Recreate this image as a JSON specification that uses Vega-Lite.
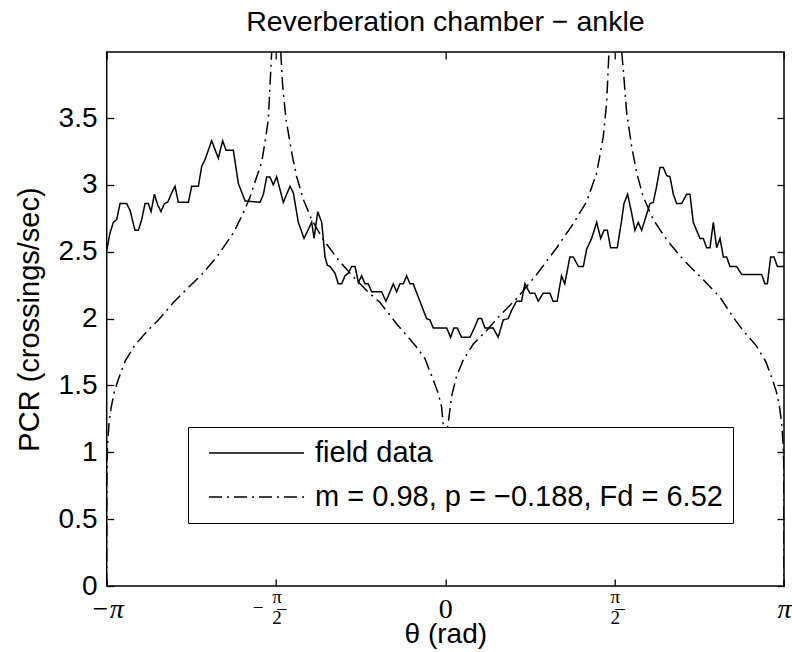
{
 "$schema": "https://vega.github.io/schema/vega-lite/v6.json",
 "width": 677.3,
 "height": 534,
 "autosize": {"type": "none"},
 "padding": {"left": 106.7, "top": 52, "right": 8, "bottom": 66},
 "background": "white",
 "title": {"text": "Reverberation chamber − ankle", "font": "Liberation Sans", "fontSize": 28.5, "fontWeight": "normal", "color": "black", "anchor": "middle", "baseline": "alphabetic", "offset": -10.5},
 "config": {
  "view": {"stroke": "black", "strokeWidth": 1.5},
  "axis": {"domain": false, "grid": false, "tickColor": "black", "tickWidth": 1.3, "tickSize": -7, "labelColor": "black", "titleColor": "black", "titleFontWeight": "normal"}
 },
 "data": {"values": [
  {"t":-3.1416,"v":2.51,"s":"f"},{"t":-3.111,"v":2.64,"s":"f"},{"t":-3.080,"v":2.72,"s":"f"},{"t":-3.049,"v":2.74,"s":"f"},{"t":-3.018,"v":2.86,"s":"f"},{"t":-2.956,"v":2.86,"s":"f"},{"t":-2.925,"v":2.81,"s":"f"},{"t":-2.879,"v":2.66,"s":"f"},{"t":-2.848,"v":2.66,"s":"f"},{"t":-2.817,"v":2.74,"s":"f"},{"t":-2.786,"v":2.86,"s":"f"},{"t":-2.755,"v":2.86,"s":"f"},{"t":-2.730,"v":2.80,"s":"f"},{"t":-2.699,"v":2.93,"s":"f"},{"t":-2.668,"v":2.85,"s":"f"},{"t":-2.638,"v":2.80,"s":"f"},{"t":-2.607,"v":2.86,"s":"f"},{"t":-2.576,"v":2.87,"s":"f"},{"t":-2.539,"v":2.94,"s":"f"},{"t":-2.508,"v":2.99,"s":"f"},{"t":-2.477,"v":2.87,"s":"f"},{"t":-2.384,"v":2.87,"s":"f"},{"t":-2.353,"v":2.99,"s":"f"},{"t":-2.291,"v":2.99,"s":"f"},{"t":-2.260,"v":3.14,"s":"f"},{"t":-2.229,"v":3.19,"s":"f"},{"t":-2.168,"v":3.33,"s":"f"},{"t":-2.106,"v":3.20,"s":"f"},{"t":-2.066,"v":3.33,"s":"f"},{"t":-2.035,"v":3.26,"s":"f"},{"t":-1.967,"v":3.26,"s":"f"},{"t":-1.920,"v":3.01,"s":"f"},{"t":-1.858,"v":2.88,"s":"f"},{"t":-1.719,"v":2.87,"s":"f"},{"t":-1.688,"v":2.93,"s":"f"},{"t":-1.657,"v":3.06,"s":"f"},{"t":-1.627,"v":3.06,"s":"f"},{"t":-1.596,"v":3.00,"s":"f"},{"t":-1.565,"v":3.06,"s":"f"},{"t":-1.503,"v":2.87,"s":"f"},{"t":-1.441,"v":2.99,"s":"f"},{"t":-1.410,"v":2.94,"s":"f"},{"t":-1.364,"v":2.72,"s":"f"},{"t":-1.311,"v":2.60,"s":"f"},{"t":-1.240,"v":2.72,"s":"f"},{"t":-1.218,"v":2.60,"s":"f"},{"t":-1.184,"v":2.80,"s":"f"},{"t":-1.147,"v":2.72,"s":"f"},{"t":-1.116,"v":2.46,"s":"f"},{"t":-1.095,"v":2.40,"s":"f"},
  {"t":-1.070,"v":2.39,"s":"f"},{"t":-1.024,"v":2.34,"s":"f"},{"t":-0.993,"v":2.26,"s":"f"},{"t":-0.962,"v":2.26,"s":"f"},{"t":-0.931,"v":2.32,"s":"f"},{"t":-0.900,"v":2.34,"s":"f"},{"t":-0.869,"v":2.39,"s":"f"},{"t":-0.838,"v":2.39,"s":"f"},{"t":-0.807,"v":2.27,"s":"f"},{"t":-0.776,"v":2.32,"s":"f"},{"t":-0.746,"v":2.26,"s":"f"},{"t":-0.715,"v":2.26,"s":"f"},{"t":-0.684,"v":2.20,"s":"f"},{"t":-0.591,"v":2.20,"s":"f"},{"t":-0.551,"v":2.13,"s":"f"},{"t":-0.514,"v":2.20,"s":"f"},{"t":-0.483,"v":2.26,"s":"f"},{"t":-0.452,"v":2.20,"s":"f"},{"t":-0.421,"v":2.26,"s":"f"},{"t":-0.390,"v":2.26,"s":"f"},{"t":-0.359,"v":2.32,"s":"f"},{"t":-0.328,"v":2.26,"s":"f"},{"t":-0.298,"v":2.26,"s":"f"},{"t":-0.236,"v":2.13,"s":"f"},{"t":-0.174,"v":2.00,"s":"f"},{"t":-0.143,"v":1.99,"s":"f"},{"t":-0.112,"v":1.93,"s":"f"},{"t":0.012,"v":1.93,"s":"f"},{"t":0.049,"v":1.86,"s":"f"},{"t":0.079,"v":1.93,"s":"f"},{"t":0.110,"v":1.93,"s":"f"},{"t":0.151,"v":1.86,"s":"f"},{"t":0.228,"v":1.86,"s":"f"},{"t":0.274,"v":1.94,"s":"f"},{"t":0.305,"v":2.00,"s":"f"},{"t":0.336,"v":2.00,"s":"f"},{"t":0.367,"v":1.93,"s":"f"},{"t":0.444,"v":1.93,"s":"f"},{"t":0.490,"v":1.86,"s":"f"},{"t":0.537,"v":1.99,"s":"f"},{"t":0.583,"v":2.00,"s":"f"},{"t":0.614,"v":2.06,"s":"f"},{"t":0.660,"v":2.13,"s":"f"},{"t":0.707,"v":2.13,"s":"f"},{"t":0.738,"v":2.26,"s":"f"},{"t":0.784,"v":2.19,"s":"f"},{"t":0.830,"v":2.19,"s":"f"},{"t":0.861,"v":2.13,"s":"f"},{"t":0.908,"v":2.19,"s":"f"},{"t":0.969,"v":2.19,"s":"f"},{"t":1.000,"v":2.13,"s":"f"},{"t":1.037,"v":2.13,"s":"f"},{"t":1.078,"v":2.32,"s":"f"},{"t":1.108,"v":2.26,"s":"f"},{"t":1.155,"v":2.46,"s":"f"},
  {"t":1.187,"v":2.46,"s":"f"},{"t":1.234,"v":2.39,"s":"f"},{"t":1.280,"v":2.39,"s":"f"},{"t":1.311,"v":2.52,"s":"f"},{"t":1.357,"v":2.60,"s":"f"},{"t":1.404,"v":2.72,"s":"f"},{"t":1.441,"v":2.60,"s":"f"},{"t":1.472,"v":2.66,"s":"f"},{"t":1.503,"v":2.66,"s":"f"},{"t":1.533,"v":2.53,"s":"f"},{"t":1.595,"v":2.53,"s":"f"},{"t":1.636,"v":2.74,"s":"f"},{"t":1.657,"v":2.86,"s":"f"},{"t":1.691,"v":2.93,"s":"f"},{"t":1.728,"v":2.79,"s":"f"},{"t":1.759,"v":2.66,"s":"f"},{"t":1.790,"v":2.72,"s":"f"},{"t":1.821,"v":2.66,"s":"f"},{"t":1.852,"v":2.74,"s":"f"},{"t":1.898,"v":2.86,"s":"f"},{"t":1.929,"v":2.87,"s":"f"},{"t":1.960,"v":2.99,"s":"f"},{"t":1.991,"v":3.13,"s":"f"},{"t":2.022,"v":3.13,"s":"f"},{"t":2.053,"v":3.07,"s":"f"},{"t":2.084,"v":3.06,"s":"f"},{"t":2.115,"v":2.93,"s":"f"},{"t":2.146,"v":2.86,"s":"f"},{"t":2.192,"v":2.86,"s":"f"},{"t":2.238,"v":2.93,"s":"f"},{"t":2.269,"v":2.93,"s":"f"},{"t":2.300,"v":2.72,"s":"f"},{"t":2.362,"v":2.60,"s":"f"},{"t":2.393,"v":2.60,"s":"f"},{"t":2.424,"v":2.53,"s":"f"},{"t":2.455,"v":2.53,"s":"f"},{"t":2.486,"v":2.72,"s":"f"},{"t":2.517,"v":2.53,"s":"f"},{"t":2.548,"v":2.60,"s":"f"},{"t":2.579,"v":2.46,"s":"f"},{"t":2.610,"v":2.46,"s":"f"},{"t":2.640,"v":2.39,"s":"f"},{"t":2.702,"v":2.39,"s":"f"},{"t":2.749,"v":2.33,"s":"f"},{"t":2.934,"v":2.33,"s":"f"},{"t":2.965,"v":2.26,"s":"f"},{"t":2.987,"v":2.26,"s":"f"},{"t":3.018,"v":2.46,"s":"f"},{"t":3.049,"v":2.46,"s":"f"},{"t":3.080,"v":2.39,"s":"f"},{"t":3.1416,"v":2.39,"s":"f"},
  {"t":-3.1416,"v":0,"s":"m","b":"A"},{"t":-3.1406,"v":0.75,"s":"m","b":"A"},{"t":-3.1386,"v":0.92,"s":"m","b":"A"},{"t":-3.1336,"v":1.05,"s":"m","b":"A"},{"t":-3.1216,"v":1.20,"s":"m","b":"A"},{"t":-3.1016,"v":1.33,"s":"m","b":"A"},{"t":-3.0716,"v":1.45,"s":"m","b":"A"},{"t":-3.0316,"v":1.55,"s":"m","b":"A"},{"t":-2.9716,"v":1.68,"s":"m","b":"A"},{"t":-2.8816,"v":1.80,"s":"m","b":"A"},{"t":-2.7616,"v":1.91,"s":"m","b":"A"},{"t":-2.662,"v":1.99,"s":"m","b":"A"},{"t":-2.523,"v":2.12,"s":"m","b":"A"},{"t":-2.400,"v":2.22,"s":"m","b":"A"},{"t":-2.260,"v":2.33,"s":"m","b":"A"},{"t":-2.121,"v":2.46,"s":"m","b":"A"},{"t":-1.967,"v":2.64,"s":"m","b":"A"},{"t":-1.874,"v":2.79,"s":"m","b":"A"},{"t":-1.812,"v":2.91,"s":"m","b":"A"},{"t":-1.750,"v":3.06,"s":"m","b":"A"},{"t":-1.704,"v":3.17,"s":"m","b":"A"},{"t":-1.673,"v":3.32,"s":"m","b":"A"},{"t":-1.642,"v":3.49,"s":"m","b":"A"},{"t":-1.627,"v":3.74,"s":"m","b":"A"},{"t":-1.611,"v":3.994,"s":"m","b":"A"},
  {"t":-1.527,"v":3.994,"s":"m","b":"B"},{"t":-1.509,"v":3.74,"s":"m","b":"B"},{"t":-1.478,"v":3.49,"s":"m","b":"B"},{"t":-1.425,"v":3.24,"s":"m","b":"B"},{"t":-1.379,"v":3.06,"s":"m","b":"B"},{"t":-1.317,"v":2.89,"s":"m","b":"B"},{"t":-1.240,"v":2.74,"s":"m","b":"B"},{"t":-1.132,"v":2.59,"s":"m","b":"B"},{"t":-0.993,"v":2.44,"s":"m","b":"B"},{"t":-0.853,"v":2.31,"s":"m","b":"B"},{"t":-0.730,"v":2.21,"s":"m","b":"B"},{"t":-0.606,"v":2.12,"s":"m","b":"B"},{"t":-0.498,"v":2.01,"s":"m","b":"B"},{"t":-0.452,"v":1.96,"s":"m","b":"B"},{"t":-0.344,"v":1.86,"s":"m","b":"B"},{"t":-0.260,"v":1.78,"s":"m","b":"B"},{"t":-0.189,"v":1.70,"s":"m","b":"B"},{"t":-0.112,"v":1.54,"s":"m","b":"B"},{"t":-0.066,"v":1.44,"s":"m","b":"B"},{"t":-0.035,"v":1.34,"s":"m","b":"B"},{"t":-0.019,"v":1.20,"s":"m","b":"B"},{"t":-0.008,"v":1.10,"s":"m","b":"B"},{"t":0,"v":1.05,"s":"m","b":"B"},
  {"t":0,"v":1.05,"s":"m","b":"C"},{"t":0.008,"v":1.12,"s":"m","b":"C"},{"t":0.027,"v":1.22,"s":"m","b":"C"},{"t":0.058,"v":1.42,"s":"m","b":"C"},{"t":0.104,"v":1.57,"s":"m","b":"C"},{"t":0.166,"v":1.69,"s":"m","b":"C"},{"t":0.259,"v":1.81,"s":"m","b":"C"},{"t":0.382,"v":1.91,"s":"m","b":"C"},{"t":0.491,"v":2.01,"s":"m","b":"C"},{"t":0.661,"v":2.15,"s":"m","b":"C"},{"t":0.847,"v":2.33,"s":"m","b":"C"},{"t":1.033,"v":2.53,"s":"m","b":"C"},{"t":1.187,"v":2.71,"s":"m","b":"C"},{"t":1.311,"v":2.875,"s":"m","b":"C"},{"t":1.404,"v":3.09,"s":"m","b":"C"},{"t":1.465,"v":3.36,"s":"m","b":"C"},{"t":1.496,"v":3.61,"s":"m","b":"C"},{"t":1.518,"v":3.994,"s":"m","b":"C"},
  {"t":1.636,"v":3.994,"s":"m","b":"D"},{"t":1.651,"v":3.86,"s":"m","b":"D"},{"t":1.682,"v":3.54,"s":"m","b":"D"},{"t":1.728,"v":3.29,"s":"m","b":"D"},{"t":1.775,"v":3.09,"s":"m","b":"D"},{"t":1.836,"v":2.91,"s":"m","b":"D"},{"t":1.929,"v":2.74,"s":"m","b":"D"},{"t":2.053,"v":2.59,"s":"m","b":"D"},{"t":2.208,"v":2.44,"s":"m","b":"D"},{"t":2.393,"v":2.29,"s":"m","b":"D"},{"t":2.548,"v":2.16,"s":"m","b":"D"},{"t":2.671,"v":2.01,"s":"m","b":"D"},{"t":2.762,"v":1.91,"s":"m","b":"D"},{"t":2.882,"v":1.80,"s":"m","b":"D"},{"t":2.972,"v":1.68,"s":"m","b":"D"},{"t":3.032,"v":1.55,"s":"m","b":"D"},{"t":3.072,"v":1.45,"s":"m","b":"D"},{"t":3.102,"v":1.33,"s":"m","b":"D"},{"t":3.122,"v":1.20,"s":"m","b":"D"},{"t":3.134,"v":1.05,"s":"m","b":"D"},{"t":3.139,"v":0.92,"s":"m","b":"D"},{"t":3.141,"v":0.75,"s":"m","b":"D"},{"t":3.1416,"v":0,"s":"m","b":"D"}
 ]},
 "layer": [
  {
   "mark": {"type": "line", "color": "black", "strokeWidth": 1.5, "clip": true},
   "encoding": {
    "x": {"field": "t", "type": "quantitative",
     "scale": {"domain": [-3.14159265, 3.14159265], "nice": false, "zero": false},
     "axis": {"orient": "bottom", "values": [-3.14159265, -1.57079633, 0, 1.57079633, 3.14159265],
      "labelExpr": "datum.value < -3 ? '−π' : (datum.value < -1 ? ['\u200b\u2003π', '−\u2003\u200b', '\u200b\u20032\u0305'] : (abs(datum.value) < 0.1 ? '0' : (datum.value < 3 ? ['π', '\u200b', '2\u0305'] : 'π')))",
      "labelFont": "Liberation Serif",
      "labelFontStyle": {"condition": {"test": "abs(datum.value) > 3", "value": "italic"}, "value": "normal"},
      "labelFontSize": {"condition": {"test": "abs(abs(datum.value) - 1.5708) < 0.01", "value": 19}, "value": 28},
      "labelPadding": {"condition": {"test": "abs(abs(datum.value) - 1.5708) < 0.01", "value": 8.6}, "value": 16},
      "labelOffset": {"condition": {"test": "abs(datum.value + 1.5708) < 0.01", "value": -9}, "value": 0},
      "labelLineHeight": 10.5, "labelFlush": false, "labelOverlap": false, "labelBound": false,
      "title": "θ (rad)", "titleFont": "Liberation Sans", "titleFontSize": 28, "titleY": 56, "titleBaseline": "alphabetic"}},
    "y": {"field": "v", "type": "quantitative",
     "scale": {"domain": [0, 3.994], "nice": false, "zero": false},
     "axis": {"orient": "left", "values": [0, 0.5, 1, 1.5, 2, 2.5, 3, 3.5], "format": "~g",
      "labelFont": "Liberation Sans", "labelFontSize": 28, "labelPadding": 16.7, "labelFlush": false,
      "title": "PCR (crossings/sec)", "titleFont": "Liberation Sans", "titleFontSize": 29, "titleX": -77, "titleY": 267, "titleBaseline": "middle"}},
    "strokeDash": {"field": "s", "type": "nominal",
     "scale": {"domain": ["f", "m"], "range": [[1, 0], [13, 5, 2, 5]]},
     "legend": {"orient": "none", "legendX": 81.3, "legendY": 375, "title": null,
      "labelExpr": "datum.value == 'f' ? 'field data' : 'm = 0.98, p = −0.188, Fd = 6.52'",
      "fillColor": "white", "strokeColor": "black", "padding": 10,
      "symbolType": "stroke", "symbolSize": 9025, "symbolStrokeWidth": 1.5, "symbolStrokeColor": "black",
      "labelFont": "Liberation Sans", "labelFontSize": 29, "labelColor": "black", "labelOffset": 10, "labelLimit": 1000,
      "clipHeight": 32, "rowPadding": 12, "symbolOffset": 10, "zindex": 1}},
    "detail": {"field": "b", "type": "nominal"}
   }
  },
  {
   "mark": {"type": "point", "opacity": 0},
   "encoding": {
    "x": {"field": "t", "type": "quantitative",
     "scale": {"domain": [-3.14159265, 3.14159265], "nice": false, "zero": false},
     "axis": {"orient": "top", "values": [-3.14159265, -1.57079633, 0, 1.57079633, 3.14159265], "labels": false, "title": null}},
    "y": {"field": "v", "type": "quantitative",
     "scale": {"domain": [0, 3.994], "nice": false, "zero": false},
     "axis": {"orient": "right", "values": [0, 0.5, 1, 1.5, 2, 2.5, 3, 3.5], "labels": false, "title": null}}
   }
  }
 ],
 "resolve": {"axis": {"x": "independent", "y": "independent"}}
}
